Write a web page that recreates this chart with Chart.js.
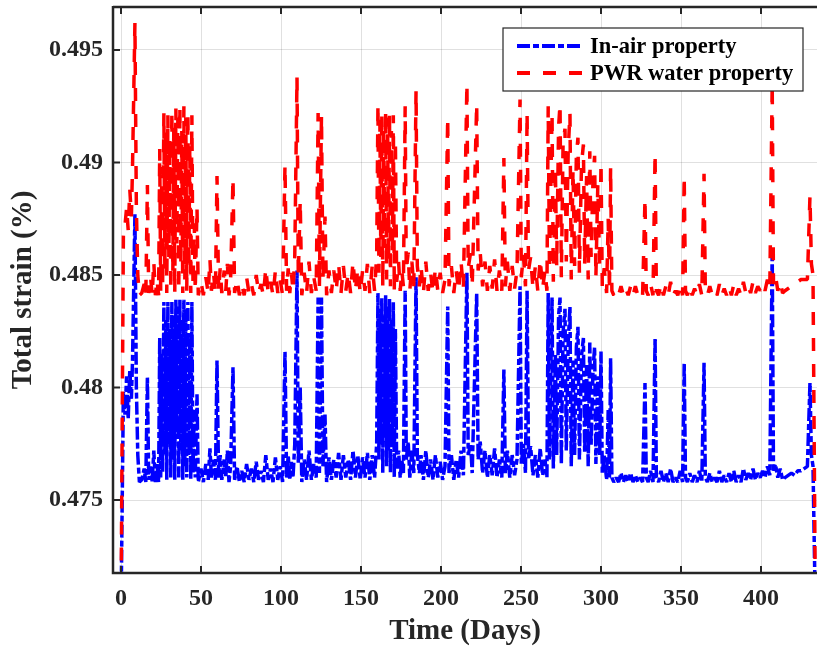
<!DOCTYPE html>
<html><head><meta charset="utf-8">
<script src="https://cdn.jsdelivr.net/npm/chart.js@4/dist/chart.umd.min.js"></script>
<style>html,body{margin:0;padding:0;background:#fff;}canvas{display:block;}</style>
</head><body>
<canvas id="c" width="817" height="649"></canvas>
<script>
// ---- data ----
const days = [
  0, 1.5, 2.5, 3.5, 4.5, 5.5, 6.5, 7.2, 8.7, 9.6,
  10.5, 11.5, 13.0, 14.5, 15.5, 16.5, 17.3, 18.5, 19.5, 20.5,
  21.5, 22.5, 23.5, 24.2, 24.8, 25.5, 26.0, 26.8, 27.4, 28.0,
  28.6, 29.3, 29.9, 30.5, 31.1, 31.8, 32.4, 33.0, 33.6, 34.3,
  34.9, 35.5, 36.1, 36.8, 37.4, 38.0, 38.6, 39.3, 39.9, 40.5,
  41.1, 41.8, 42.4, 43.0, 43.6, 44.3, 45.0, 45.8, 46.4, 47.5,
  48.3, 50.0, 51.5, 53.0, 54.5, 55.6, 56.5, 57.8, 59.0, 60.0,
  61.0, 62.0, 63.0, 64.5, 65.5, 66.5, 67.5, 68.5, 70.0, 71.0,
  72.5, 74.0, 75.5, 77.0, 78.5, 80.0, 81.5, 83.0, 84.5, 86.0,
  87.5, 89.0, 90.5, 92.0, 93.5, 95.0, 96.5, 98.0, 99.5, 101.0,
  102.5, 103.5, 104.5, 105.5, 106.5, 107.5, 108.6, 110.0, 110.8, 112.0,
  113.0, 114.5, 116.0, 117.5, 119.0, 120.5, 122.0, 123.2, 124.0, 125.3,
  126.2, 127.5, 128.5, 130.0, 131.5, 133.0, 134.5, 136.0, 137.5, 139.0,
  140.5, 142.0, 143.5, 145.0, 146.5, 148.0, 149.5, 151.0, 152.5, 154.0,
  155.5, 157.0, 158.5, 159.8, 160.6, 161.2, 161.8, 162.4, 163.0, 163.6,
  164.2, 164.8, 165.4, 166.0, 166.6, 167.2, 167.8, 168.4, 169.0, 169.6,
  170.2, 170.8, 171.5, 172.3, 173.5, 174.5, 175.5, 176.5, 177.6, 178.3,
  179.5, 180.5, 181.8, 183.0, 184.4, 185.2, 186.5, 187.5, 189.0, 190.5,
  192.0, 193.5, 195.0, 196.5, 198.0, 199.5, 201.0, 202.5, 204.2, 205.0,
  206.5, 208.0, 209.5, 211.0, 212.5, 214.0, 216.2, 217.0, 218.5, 219.5,
  222.3, 223.2, 224.5, 226.0, 227.5, 229.0, 230.5, 232.0, 233.5, 235.0,
  236.5, 238.0, 239.3, 240.2, 241.5, 243.0, 244.5, 246.0, 247.5, 249.4,
  250.2, 251.5, 252.8, 253.8, 254.7, 256.0, 257.5, 259.0, 260.5, 262.0,
  263.5, 265.0, 266.2, 267.0, 267.8, 269.4, 270.2, 271.5, 272.3, 273.5,
  274.4, 275.2, 276.3, 277.5, 278.3, 279.5, 280.6, 281.4, 282.5, 283.5,
  284.6, 285.6, 286.5, 287.8, 289.0, 289.8, 291.0, 292.0, 293.0, 293.8,
  295.0, 296.0, 296.8, 298.0, 299.2, 300.0, 300.8, 302.0, 303.5, 304.5,
  305.3, 306.0, 306.8, 308.0, 309.5, 311.0, 312.5, 314.0, 315.5, 317.0,
  318.5, 320.0, 321.5, 323.0, 324.5, 326.0, 327.5, 328.3, 329.5, 331.0,
  332.5, 333.8, 334.6, 336.0, 337.5, 339.0, 340.5, 342.0, 343.5, 345.0,
  346.5, 348.0, 349.5, 351.0, 352.0, 352.8, 354.0, 355.5, 357.0, 358.5,
  360.0, 361.5, 363.0, 364.4, 365.2, 366.5, 368.0, 369.5, 371.0, 372.5,
  374.0, 375.5, 377.0, 378.5, 380.0, 381.5, 383.0, 384.5, 386.0, 387.5,
  389.0, 390.5, 392.0, 393.5, 395.0, 396.5, 398.0, 399.5, 401.0, 402.5,
  404.0, 405.5, 407.0, 407.8, 409.0, 410.5, 412.0, 413.5, 415.0, 417.0,
  419.0, 421.0, 423.0, 425.0, 427.0, 429.0, 430.6, 431.5, 432.5, 434.0
];
const inAir = [
  .4700, .4798, .4788, .4805, .4786, .4808, .4795, .4812, .4877, .4800,
  .4770, .4758, .4759, .4764, .4758, .4805, .4759, .4765, .4758, .4772,
  .4758, .4766, .4758, .4822, .4760, .4815, .4762, .4838, .4770, .4830,
  .4759, .4838, .4775, .4826, .4760, .4838, .4768, .4832, .4759, .4839,
  .4780, .4836, .4760, .4839, .4772, .4830, .4759, .4839, .4765, .4835,
  .4760, .4838, .4770, .4824, .4759, .4838, .4762, .4790, .4760, .4797,
  .4758, .4764, .4758, .4766, .4759, .4773, .4760, .4768, .4759, .4812,
  .4760, .4770, .4759, .4768, .4760, .4772, .4758, .4765, .4809, .4759,
  .4765, .4758, .4763, .4758, .4766, .4759, .4764, .4758, .4767, .4759,
  .4763, .4758, .4770, .4759, .4764, .4758, .4769, .4759, .4765, .4758,
  .4816, .4760, .4770, .4759, .4767, .4760, .4775, .4852, .4766, .4800,
  .4758, .4768, .4759, .4772, .4759, .4766, .4760, .4840, .4762, .4840,
  .4765, .4788, .4758, .4769, .4759, .4768, .4760, .4771, .4759, .4770,
  .4760, .4768, .4759, .4772, .4760, .4770, .4759, .4769, .4760, .4771,
  .4759, .4770, .4760, .4775, .4842, .4768, .4835, .4775, .4840, .4762,
  .4832, .4778, .4841, .4765, .4836, .4772, .4840, .4762, .4830, .4776,
  .4838, .4760, .4826, .4764, .4772, .4760, .4768, .4762, .4843, .4768,
  .4776, .4760, .4772, .4762, .4849, .4770, .4762, .4770, .4759, .4772,
  .4760, .4768, .4759, .4770, .4760, .4767, .4759, .4765, .4836, .4762,
  .4770, .4759, .4768, .4760, .4772, .4761, .4851, .4770, .4775, .4762,
  .4842, .4768, .4776, .4762, .4772, .4760, .4770, .4761, .4773, .4760,
  .4768, .4760, .4808, .4762, .4772, .4760, .4770, .4761, .4768, .4845,
  .4766, .4775, .4762, .4843, .4768, .4774, .4761, .4770, .4760, .4773,
  .4761, .4768, .4760, .4842, .4768, .4840, .4764, .4815, .4770, .4832,
  .4840, .4766, .4825, .4835, .4772, .4820, .4836, .4765, .4812, .4770,
  .4818, .4827, .4768, .4814, .4822, .4771, .4810, .4765, .4820, .4774,
  .4808, .4818, .4766, .4805, .4770, .4816, .4762, .4770, .4759, .4790,
  .4760, .4813, .4760, .4758, .4760, .4758, .4762, .4758, .4761, .4758,
  .4762, .4758, .4761, .4758, .4760, .4758, .4802, .4760, .4758, .4763,
  .4758, .4822, .4760, .4758, .4763, .4758, .4762, .4758, .4764, .4758,
  .4760, .4758, .4763, .4758, .4811, .4760, .4758, .4762, .4758, .4761,
  .4758, .4763, .4758, .4811, .4760, .4758, .4762, .4758, .4760, .4758,
  .4763, .4758, .4761, .4758, .4762, .4758, .4763, .4758, .4761, .4758,
  .4764, .4759, .4762, .4759, .4764, .4759, .4762, .4760, .4763, .4760,
  .4765, .4761, .4861, .4763, .4766, .4760, .4764, .4759, .4760, .4761,
  .4762, .4761, .4763, .4763, .4764, .4765, .4802, .4770, .4765, .4700
];
const pwr = [
  .4700, .4868, .4872, .4880, .4870, .4888, .4876, .4898, .4962, .4880,
  .4850, .4841, .4842, .4846, .4841, .4890, .4842, .4849, .4841, .4856,
  .4841, .4848, .4841, .4906, .4843, .4898, .4845, .4922, .4852, .4914,
  .4842, .4921, .4858, .4910, .4843, .4923, .4851, .4916, .4842, .4924,
  .4864, .4920, .4843, .4925, .4855, .4914, .4842, .4925, .4848, .4920,
  .4843, .4922, .4853, .4908, .4842, .4921, .4845, .4873, .4843, .4880,
  .4841, .4847, .4841, .4849, .4842, .4857, .4843, .4851, .4842, .4894,
  .4843, .4853, .4842, .4852, .4843, .4855, .4841, .4848, .4893, .4842,
  .4848, .4841, .4846, .4841, .4849, .4842, .4846, .4841, .4850, .4842,
  .4846, .4841, .4853, .4842, .4847, .4841, .4852, .4842, .4848, .4841,
  .4899, .4843, .4853, .4842, .4851, .4843, .4858, .4938, .4849, .4883,
  .4841, .4851, .4842, .4856, .4842, .4849, .4843, .4922, .4845, .4921,
  .4848, .4876, .4841, .4852, .4842, .4852, .4843, .4855, .4842, .4854,
  .4843, .4851, .4842, .4856, .4843, .4853, .4842, .4852, .4843, .4855,
  .4842, .4854, .4843, .4859, .4926, .4851, .4919, .4858, .4922, .4845,
  .4916, .4862, .4923, .4848, .4920, .4856, .4922, .4845, .4914, .4860,
  .4921, .4843, .4910, .4847, .4856, .4843, .4852, .4845, .4925, .4852,
  .4860, .4843, .4856, .4845, .4932, .4854, .4845, .4854, .4842, .4856,
  .4843, .4851, .4842, .4853, .4843, .4851, .4842, .4848, .4920, .4845,
  .4854, .4842, .4852, .4843, .4856, .4844, .4935, .4853, .4860, .4845,
  .4926, .4852, .4860, .4845, .4856, .4843, .4854, .4844, .4857, .4843,
  .4852, .4843, .4902, .4845, .4856, .4843, .4854, .4844, .4852, .4928,
  .4849, .4859, .4845, .4922, .4852, .4858, .4844, .4854, .4843, .4857,
  .4844, .4852, .4843, .4925, .4852, .4922, .4847, .4898, .4854, .4916,
  .4926, .4849, .4909, .4915, .4856, .4905, .4922, .4848, .4897, .4854,
  .4903, .4911, .4851, .4899, .4908, .4855, .4894, .4848, .4905, .4858,
  .4892, .4903, .4849, .4890, .4853, .4900, .4845, .4853, .4842, .4875,
  .4843, .4898, .4843, .4841, .4843, .4841, .4845, .4841, .4844, .4841,
  .4845, .4841, .4845, .4841, .4843, .4841, .4884, .4843, .4841, .4846,
  .4841, .4904, .4843, .4841, .4846, .4841, .4845, .4841, .4847, .4841,
  .4843, .4841, .4846, .4841, .4894, .4843, .4841, .4845, .4841, .4844,
  .4841, .4846, .4841, .4895, .4843, .4841, .4845, .4841, .4843, .4841,
  .4846, .4841, .4844, .4841, .4845, .4841, .4846, .4841, .4844, .4841,
  .4847, .4842, .4845, .4842, .4847, .4842, .4845, .4843, .4846, .4843,
  .4848, .4844, .4935, .4846, .4850, .4843, .4847, .4842, .4843, .4844,
  .4845, .4845, .4847, .4848, .4848, .4848, .4885, .4855, .4850, .4700
];
const seriesNames = ['In-air property', 'PWR water property'];
const xTicks = [0, 50, 100, 150, 200, 250, 300, 350, 400];
const yTicks = [0.475, 0.48, 0.485, 0.49, 0.495];
const yTickLabels = ['0.475', '0.48', '0.485', '0.49', '0.495'];
const xLabel = 'Time (Days)';
const yLabel = 'Total strain (%)';

// ---- styling ----
const SERIF = "'Liberation Serif', 'Times New Roman', serif";
const INK = '#262626';
const BLUE_DASH = [13, 3, 6, 3];
const RED_DASH = [13, 13];

const frameAndLegend = {
  id: 'frameAndLegend',
  afterDatasetsDraw(chart) {
    const {ctx, chartArea: a, scales: {x, y}} = chart;
    ctx.save();
    ctx.strokeStyle = INK;
    ctx.lineWidth = 2.5;
    ctx.beginPath();
    ctx.moveTo(a.left, a.top); ctx.lineTo(a.right + 2, a.top);
    ctx.moveTo(a.left, a.top - 1); ctx.lineTo(a.left, a.bottom);
    ctx.lineTo(a.right + 2, a.bottom);
    ctx.stroke();
    ctx.lineWidth = 2;
    ctx.beginPath();
    x.ticks.forEach(t => {
      const px = x.getPixelForValue(t.value);
      ctx.moveTo(px, a.bottom); ctx.lineTo(px, a.bottom - 7);
      ctx.moveTo(px, a.top); ctx.lineTo(px, a.top + 7);
    });
    y.ticks.forEach(t => {
      const py = y.getPixelForValue(t.value);
      ctx.moveTo(a.left, py); ctx.lineTo(a.left + 7, py);
    });
    ctx.stroke();

    // legend box (inside, top-right)
    const bx = a.right - 314, by = a.top + 21, bw = 300, bh = 63;
    ctx.fillStyle = '#ffffff';
    ctx.fillRect(bx, by, bw, bh);
    ctx.lineWidth = 1.2;
    ctx.strokeStyle = INK;
    ctx.strokeRect(bx, by, bw, bh);
    const rows = [by + 18, by + 45];
    chart.data.datasets.forEach((ds, i) => {
      const ry = rows[i];
      ctx.save();
      ctx.strokeStyle = ds.borderColor;
      ctx.lineWidth = 4;
      ctx.setLineDash(ds.borderDash);
      ctx.beginPath();
      ctx.moveTo(bx + 14, ry); ctx.lineTo(bx + 80, ry);
      ctx.stroke();
      ctx.restore();
      ctx.fillStyle = '#000';
      ctx.font = 'bold 22.5px ' + SERIF;
      ctx.textBaseline = 'middle';
      ctx.textAlign = 'left';
      ctx.fillText(ds.label, bx + 87, ry + 1);
    });
    ctx.restore();
  }
};

new Chart(document.getElementById('c'), {
  type: 'line',
  data: {
    datasets: [
      {
        label: seriesNames[0],
        data: days.map((d, i) => ({x: d, y: inAir[i]})),
        borderColor: '#0000ff',
        borderWidth: 3.5,
        borderDash: BLUE_DASH,
        borderJoinStyle: 'bevel',
        pointRadius: 0,
        tension: 0,
        fill: false,
        order: 1
      },
      {
        label: seriesNames[1],
        data: days.map((d, i) => ({x: d, y: pwr[i]})),
        borderColor: '#ff0000',
        borderWidth: 3.5,
        borderDash: RED_DASH,
        borderJoinStyle: 'bevel',
        pointRadius: 0,
        tension: 0,
        fill: false,
        order: 0
      }
    ]
  },
  options: {
    responsive: false,
    devicePixelRatio: 1,
    animation: false,
    layout: {padding: {top: 7, left: 0, right: 0, bottom: 0}},
    plugins: {legend: {display: false}, tooltip: {enabled: false}},
    scales: {
      x: {
        type: 'linear',
        min: -5,
        max: 435,
        afterBuildTicks: s => { s.ticks = xTicks.map(v => ({value: v})); },
        afterFit: s => { s.height = 76; s.paddingLeft = 0; s.paddingRight = 0; },
        grid: {color: 'rgba(0,0,0,0.12)', lineWidth: 1, drawTicks: false},
        border: {display: false},
        ticks: {
          padding: 11,
          color: INK,
          font: {family: SERIF, size: 24, weight: 'bold'},
          maxRotation: 0,
          callback: v => String(v)
        },
        title: {
          display: true, text: xLabel, color: INK,
          font: {family: SERIF, size: 29, weight: 'bold'},
          padding: {top: 0, bottom: 0}
        }
      },
      y: {
        type: 'linear',
        min: 0.47176,
        max: 0.49691,
        afterBuildTicks: s => { s.ticks = yTicks.map(v => ({value: v})); },
        afterFit: s => { s.width = 113; s.paddingTop = 0; s.paddingBottom = 0; },
        grid: {color: 'rgba(0,0,0,0.12)', lineWidth: 1, drawTicks: false},
        border: {display: false},
        ticks: {
          padding: 10,
          color: INK,
          font: {family: SERIF, size: 24, weight: 'bold'},
          callback: (v, i) => yTickLabels[i]
        },
        title: {
          display: true, text: yLabel, color: INK,
          font: {family: SERIF, size: 29, weight: 'bold'},
          padding: {top: 6, bottom: 0}
        }
      }
    }
  },
  plugins: [frameAndLegend]
});
</script>
</body></html>
